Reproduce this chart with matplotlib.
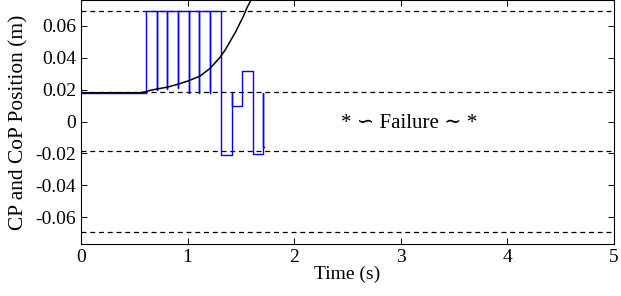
import numpy as np
import matplotlib
matplotlib.use('Agg')
import matplotlib.pyplot as plt

plt.rcParams['font.family'] = ['Liberation Serif', 'DejaVu Serif']
plt.rcParams['axes.unicode_minus'] = False

# support polygon limits (dashed)
OUTER = 0.069
INNER = 0.0184

# CP trajectory (black)
cp_t = [0.0, 0.55, 0.60, 0.65, 0.71, 0.81, 0.913, 1.01, 1.116, 1.21, 1.304, 1.35, 1.398,
        1.45, 1.49, 1.525, 1.554, 1.595, 1.62]
cp_y = [0.018, 0.018, 0.0185, 0.0195, 0.0203, 0.0215, 0.0234, 0.0255, 0.0284, 0.0332, 0.0401,
        0.0445, 0.0500, 0.0560, 0.0614, 0.0660, 0.0708, 0.0760, 0.0800]

# CoP (blue): switch instants, transient value at the switch, value held afterwards
switch_t = [0.607, 0.71, 0.81, 0.91, 1.01, 1.11, 1.21, 1.31, 1.413, 1.51, 1.61, 1.71]
switch_dip = [0.018, 0.0195, 0.0205, 0.021, 0.018, 0.018, 0.018, None, 0.018, None, None, 0.018]
switch_hold = [0.069, 0.069, 0.069, 0.069, 0.069, 0.069, 0.069, -0.0208, 0.0099, 0.0318,
               -0.0203, -0.0157]
cop_start = 0.018
cop_end_t = 1.72

xs, ys = [0.0], [cop_start]
for t, dip, hold in zip(switch_t, switch_dip, switch_hold):
    xs.append(t); ys.append(ys[-1])
    if dip is not None:
        xs.append(t); ys.append(dip)
    xs.append(t); ys.append(hold)
xs.append(cop_end_t); ys.append(ys[-1])

fig = plt.figure(figsize=(6.21, 2.96), dpi=100)
ax = fig.add_axes([81/621, 1 - 244/296, 533/621, 244/296])

for lev in (OUTER, INNER, -INNER, -OUTER):
    ax.axhline(lev, color='k', ls=(0, (4, 3)), lw=0.9)

ax.plot(xs, ys, color='#0000ff', lw=1.0)
ax.plot(cp_t, cp_y, color='k', lw=1.1)

ax.text(3.08, -0.001, '* \u223d Failure \u223c *', ha='center', va='center', fontsize=15)

ax.set_xlim(0, 5)
ax.set_ylim(-0.0766, 0.076)
yt = [-0.06, -0.04, -0.02, 0, 0.02, 0.04, 0.06]
ax.set_yticks(yt)
ax.set_yticklabels(['-0.06', '-0.04', '-0.02', '0', '0.02', '0.04', '0.06'])
ax.set_xticks([0, 1, 2, 3, 4, 5])
ax.tick_params(direction='in', top=True, right=True, labelsize=14, length=4, width=0.7)
for s in ax.spines.values():
    s.set_linewidth(0.8)
ax.set_xlabel('Time (s)', fontsize=14, labelpad=0)
ax.set_ylabel('CP and CoP Position (m)', fontsize=15.4, labelpad=5)

fig.savefig('out.png', dpi=100)
